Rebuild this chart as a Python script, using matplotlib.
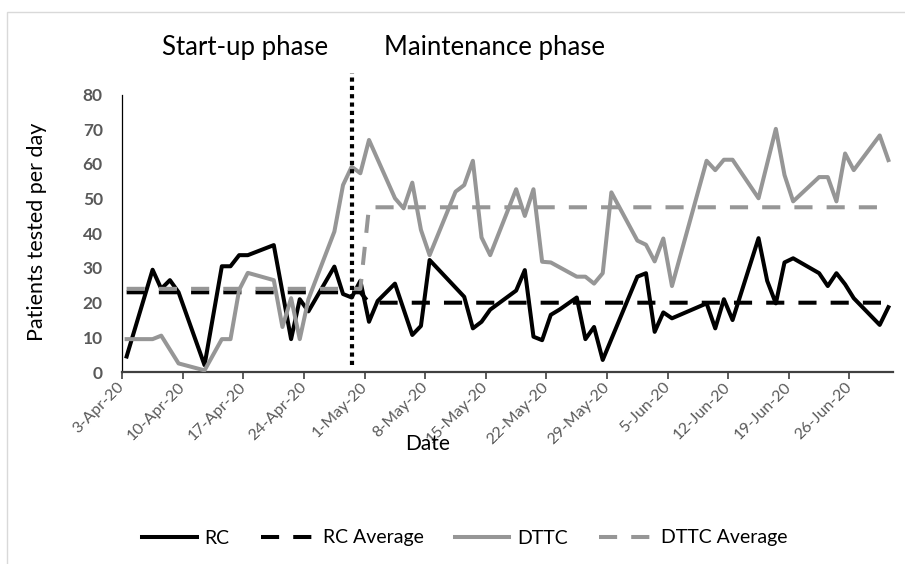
import matplotlib
matplotlib.use("Agg")
import matplotlib.pyplot as plt
import matplotlib.transforms as mtransforms
from matplotlib.patches import Rectangle

plt.rcParams['font.family'] = ['Lato', 'DejaVu Sans']

# days counted from 3-Apr-20 (day 0) to 30-Jun-20 (day 88)
rc_day = [0, 3, 4, 5, 6, 9, 11, 12, 13, 14, 17, 19, 20, 21, 24, 25, 26, 27, 28, 29,
          31, 33, 34, 35, 39, 40, 41, 42, 45, 46, 47, 48, 49, 50, 52, 53, 54, 55,
          59, 60, 61, 62, 63, 67, 68, 69, 70, 73, 74, 75, 76, 77, 80, 81, 82, 83,
          84, 87, 88]
rc_vals = [4.5, 29.5, 24, 26.5, 23, 2, 30.5, 30.5, 33.7, 33.7, 36.6, 9.5, 21, 17.5,
           30.4, 22.5, 21.5, 26.3, 14.5, 20.5, 25.5, 10.7, 13.3, 32.3, 21.7, 12.6,
           14.5, 18, 23.5, 29.4, 10.2, 9.2, 16.5, 18, 21.5, 9.5, 13, 3.5, 27.5, 28.5,
           11.6, 17.2, 15.5, 19.8, 12.6, 21, 15, 38.6, 26.3, 19.8, 31.6, 32.8, 28.5,
           24.8, 28.5, 25.3, 21.3, 13.6, 18.7]

dttc_day = [0, 3, 4, 6, 9, 11, 12, 13, 14, 17, 18, 19, 20, 21, 24, 25, 26, 27, 28,
            31, 32, 33, 34, 35, 38, 39, 40, 41, 42, 45, 46, 47, 48, 49, 52, 53, 54,
            55, 56, 59, 60, 61, 62, 63, 67, 68, 69, 70, 73, 75, 76, 77, 80, 81, 82,
            83, 84, 87, 88]
dttc_vals = [9.5, 9.5, 10.5, 2.5, 0.5, 9.5, 9.5, 23.7, 28.6, 26.5, 13, 21.3, 9.5, 21,
             40.5, 53.9, 59.2, 57.3, 66.9, 50.1, 47.2, 54.6, 41, 33.7, 52, 53.9, 60.9,
             38.8, 33.7, 52.7, 45, 52.7, 31.8, 31.6, 27.5, 27.5, 25.5, 28.5, 51.8,
             37.9, 36.7, 31.9, 38.5, 24.8, 60.9, 58.2, 61.2, 61.2, 50.1, 70.1, 56.8,
             49.2, 56.2, 56.2, 49.2, 63, 58.2, 68.2, 61.1]

avg_day = [0, 27, 28, 88]
rc_avg = [23, 23, 20, 20]
dttc_avg = [24, 24, 47.5, 47.5]

phase_split = 26   # 29-Apr-20
tick_labels = ['3-Apr-20', '10-Apr-20', '17-Apr-20', '24-Apr-20', '1-May-20',
               '8-May-20', '15-May-20', '22-May-20', '29-May-20', '5-Jun-20',
               '12-Jun-20', '19-Jun-20', '26-Jun-20']

W, H = 905, 564
fig = plt.figure(figsize=(W / 100, H / 100), dpi=100)
ax = fig.add_axes([122.3 / W, 1 - 372.1 / H, 770.4 / W, 277.6 / H])

lw = 2.9
gray = '#969696'
ax.plot(rc_day, rc_vals, color='black', lw=lw, label='RC', zorder=3)
ax.plot(avg_day, rc_avg, color='black', lw=lw, ls=(0, (4.5, 3.5)),
        label='RC Average', zorder=4)
ax.plot(dttc_day, dttc_vals, color=gray, lw=lw, label='DTTC', zorder=5)
ax.plot(avg_day, dttc_avg, color=gray, lw=lw, ls=(0, (4.5, 3.5)),
        label='DTTC Average', zorder=6)

# phase separator
ax.plot([phase_split, phase_split], [2, 86.2], color='black', lw=3,
        ls=(0, (1, 1)), clip_on=False, zorder=7)

ax.set_xlim(-0.5, 88.5)
ax.set_ylim(0, 80)
ax.set_yticks(range(0, 81, 10))
ax.set_xticks([-0.5 + 7 * i for i in range(len(tick_labels))])
ax.set_xticklabels(tick_labels, rotation=45, ha='right', va='center',
                   rotation_mode='anchor', color='#595959', fontsize=11.5)
# nudge the slanted labels right so they end at the tick, as Excel does
shift = mtransforms.ScaledTranslation(5 / 72, 0, fig.dpi_scale_trans)
for lab in ax.get_xticklabels():
    lab.set_transform(lab.get_transform() + shift)
for lab in ax.get_yticklabels():
    lab.set_fontweight('bold')
    lab.set_color('#595959')
    lab.set_fontsize(12.5)

for s in ['top', 'right']:
    ax.spines[s].set_visible(False)
ax.spines['left'].set_color('black')
ax.spines['left'].set_linewidth(0.9)
ax.spines['bottom'].set_color('#404040')
ax.spines['bottom'].set_linewidth(1.6)
ax.tick_params(axis='y', length=0, pad=14)
ax.tick_params(axis='x', length=5, width=1.2, color='#404040', pad=4)

fig.text(245 / W, 1 - 47 / H, 'Start-up phase', fontsize=18.5, ha='center', va='center')
fig.text(494 / W, 1 - 47 / H, 'Maintenance phase', fontsize=18.5, ha='center', va='center')
fig.text(37 / W, 1 - 232 / H, 'Patients tested per day', fontsize=15.5,
         rotation=90, ha='center', va='center')
fig.text(428 / W, 1 - 444 / H, 'Date', fontsize=15, ha='center', va='center')

fig.legend(loc='center', bbox_to_anchor=(465 / W, 1 - 538 / H), ncol=4,
           frameon=False, fontsize=14, handlelength=2.8, handletextpad=0.4,
           columnspacing=1.6)

# chart area border
fig.patches.append(Rectangle((7 / W, -0.1), 1.2, 1 - 12 / H + 0.1,
                             transform=fig.transFigure, fill=False,
                             edgecolor='#d9d9d9', lw=1))

fig.savefig('out.png', dpi=100)
